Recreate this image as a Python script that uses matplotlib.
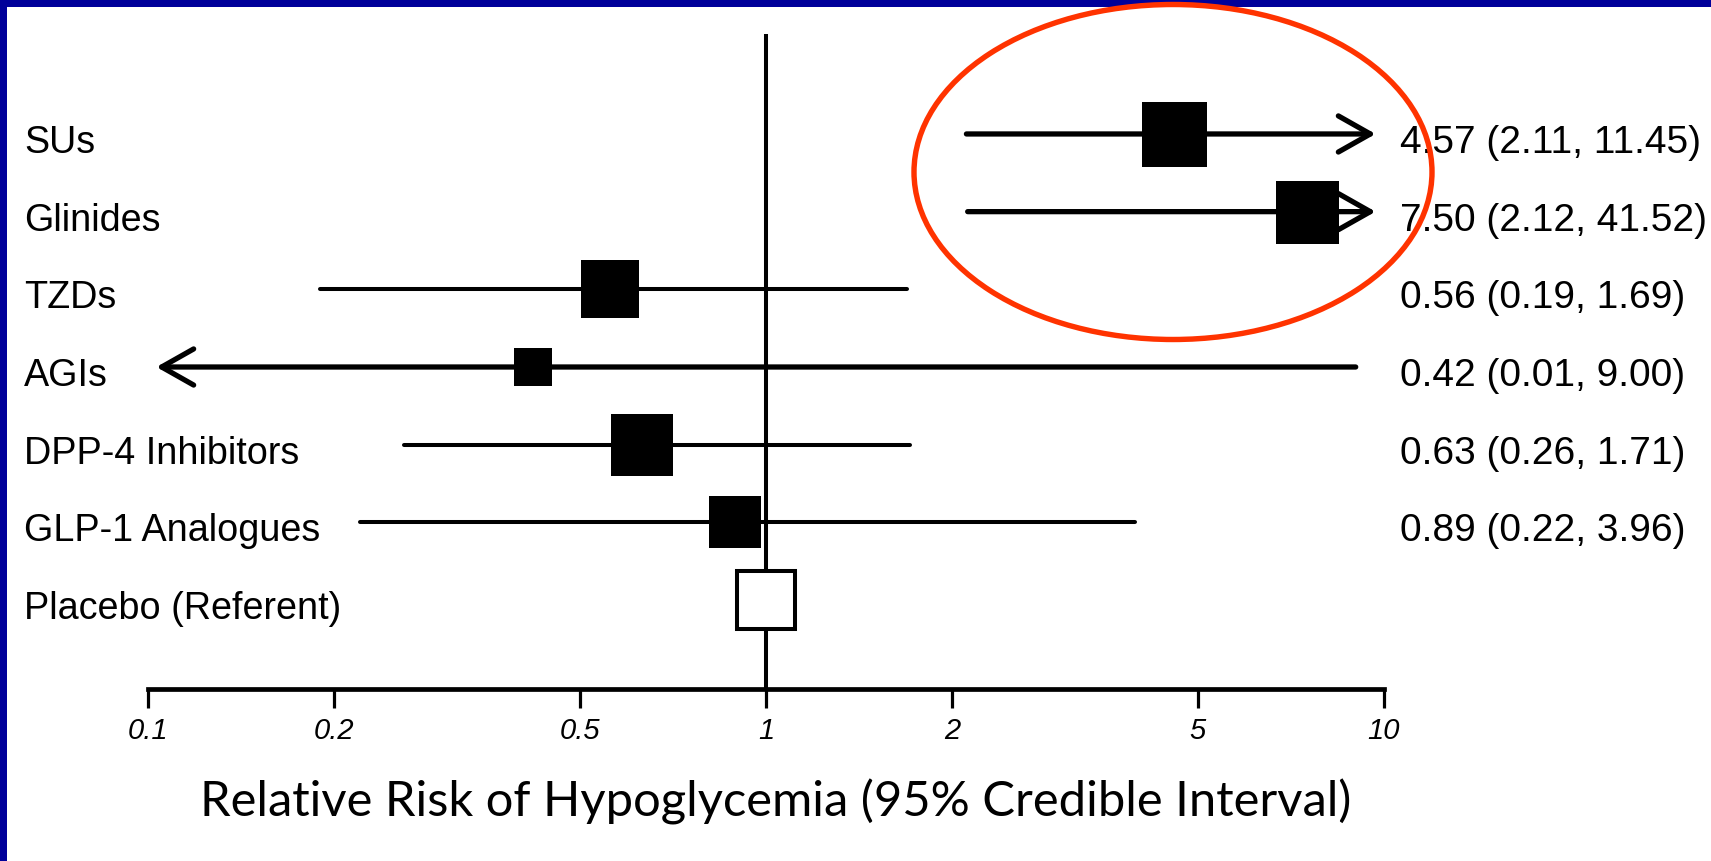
import numpy as np
import matplotlib.pyplot as plt
import matplotlib.transforms as mtransforms
from matplotlib.patches import Ellipse, Rectangle
from matplotlib.ticker import NullLocator

# relative risk of hypoglycemia vs placebo, with 95% credible intervals
drugs = ['SUs', 'Glinides', 'TZDs', 'AGIs', 'DPP-4 Inhibitors',
         'GLP-1 Analogues', 'Placebo (Referent)']
rel_risk = [4.57, 7.50, 0.56, 0.42, 0.63, 0.89, 1.0]
ci_low = [2.11, 2.12, 0.19, 0.01, 0.26, 0.22, None]
ci_high = [11.45, 41.52, 1.69, 9.00, 1.71, 3.96, None]

tick_values = [0.1, 0.2, 0.5, 1, 2, 5, 10]
tick_labels = ['0.1', '0.2', '0.5', '1', '2', '5', '10']

# box side lengths in pixels
box_px = [65, 63, 58, 38, 62, 52, 62]

W, H = 1711, 862
LABEL_FONT = ['Liberation Sans', 'DejaVu Sans']

fig = plt.figure(figsize=(W / 100, H / 100), dpi=100)
ax = fig.add_axes([148 / W, 1 - 690 / H, (1384 - 148) / W, (690 - 35) / H])
ax.set_xscale('log')
xmin, xmax = 0.1, 10
ax.set_xlim(xmin, xmax)
row_px = 77.7
ax.set_ylim(6 + (690 - 601) / row_px, -(135 - 35) / row_px)

for side in ['top', 'left', 'right']:
    ax.spines[side].set_visible(False)
ax.spines['bottom'].set_linewidth(3.4)
ax.spines['bottom'].set_bounds(xmin, xmax)
ax.set_yticks([])
ax.set_xticks(tick_values)
ax.set_xticklabels(tick_labels, fontsize=21, fontstyle='italic',
                   family=LABEL_FONT)
ax.xaxis.set_minor_locator(NullLocator())
ax.tick_params(axis='x', length=13.5, width=2.3, pad=6)

ax.axvline(1, color='black', lw=2.9, zorder=1)

for i, (est, lo, hi) in enumerate(zip(rel_risk, ci_low, ci_high)):
    if lo is None:
        continue
    if hi > xmax or lo < xmin:
        tip = xmax if hi > xmax else xmin
        tail = lo if hi > xmax else hi
        ax.annotate('', xy=(tip, i), xytext=(tail, i),
                    arrowprops=dict(arrowstyle='->,head_length=23,head_width=13',
                                    mutation_scale=1, lw=3.8, color='black',
                                    shrinkA=0, shrinkB=6,
                                    capstyle='round', joinstyle='round'),
                    zorder=4)
    else:
        ax.plot([lo, hi], [i, i], color='black', lw=2.9,
                solid_capstyle='round', zorder=2)

for i, est in enumerate(rel_risk):
    if ci_low[i] is None:
        ax.plot(est, i, marker='s', ms=(box_px[i] - 4) * 0.72,
                mfc='white', mec='black', mew=2.9, zorder=3)
    else:
        ax.plot(est, i, marker='s', ms=box_px[i] * 0.72,
                mfc='black', mec='black', mew=0, zorder=3)

# row labels on the left, estimates on the right
shift = mtransforms.ScaledTranslation(0, -0.18, fig.dpi_scale_trans)
row_trans = mtransforms.blended_transform_factory(fig.transFigure, ax.transData) + shift
for i, name in enumerate(drugs):
    ax.text(24 / W, i, name, transform=row_trans, ha='left', va='baseline',
            fontsize=27.2, family=LABEL_FONT)
    if ci_low[i] is not None:
        ax.text(1400 / W, i, f'{rel_risk[i]:.2f} ({ci_low[i]:.2f}, {ci_high[i]:.2f})',
                transform=row_trans, ha='left', va='baseline',
                fontsize=28, family=LABEL_FONT)

fig.text(776 / W, 1 - 817 / H,
         'Relative Risk of Hypoglycemia (95% Credible Interval)',
         ha='center', va='baseline', fontsize=35.2, family=['Lato', 'DejaVu Sans'])

# slide frame and highlight ring
fig.add_artist(Rectangle((0, 1 - 7.5 / H), 1, 7.5 / H, transform=fig.transFigure,
                         facecolor='#00009A', edgecolor='none', zorder=5))
fig.add_artist(Rectangle((0, 0), 7 / W, 1, transform=fig.transFigure,
                         facecolor='#00009A', edgecolor='none', zorder=5))
fig.add_artist(Ellipse((1173 / W, 1 - 173 / H), 518 / W, 335 / H,
                       transform=fig.transFigure, facecolor='none',
                       edgecolor='#FF3300', lw=3.9, zorder=6))

fig.savefig('out.png', dpi=100)
